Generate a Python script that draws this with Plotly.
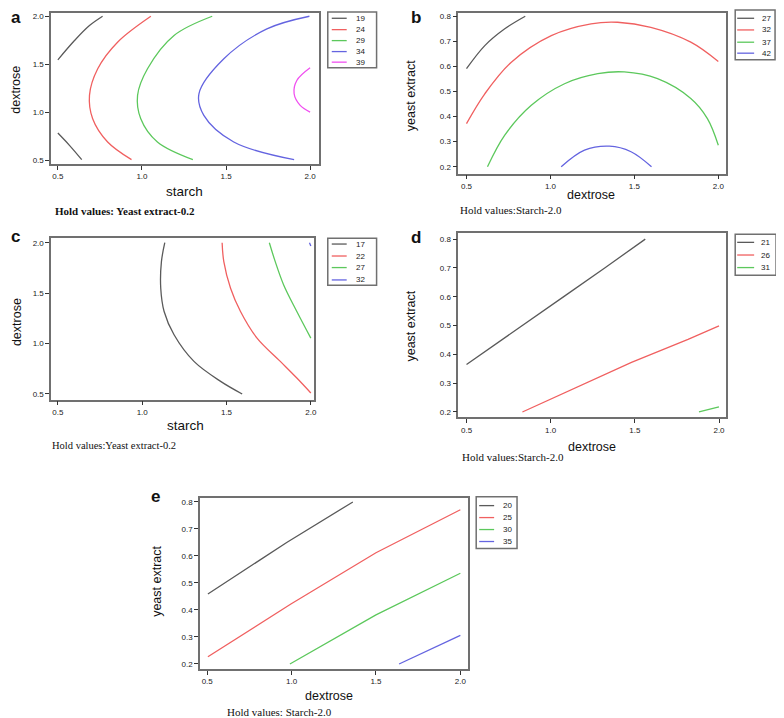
import plotly.graph_objects as go

W, H = 784, 718

# ---------------- data ----------------
# Panel a: starch (x) vs dextrose (y), hold yeast extract 0.2
a_levels = [19, 24, 29, 34, 39]
a_lvl = [19, 19, 24, 29, 34, 39]
a_x = [
    [0.50, 0.599, 0.688, 0.766],
    [0.50, 0.569, 0.642],
    [1.053, 0.855, 0.737, 0.688, 0.707, 0.796, 0.938],
    [1.418, 1.191, 1.033, 0.974, 0.993, 1.092, 1.303],
    [1.996, 1.743, 1.487, 1.339, 1.368, 1.546, 1.905],
    [2.0, 1.921, 1.905, 1.941, 2.0],
]
a_y = [
    [1.546, 1.747, 1.903, 2.0],
    [0.784, 0.656, 0.507],
    [2.0, 1.73, 1.453, 1.176, 0.933, 0.691, 0.507],
    [2.0, 1.80, 1.453, 1.176, 0.933, 0.691, 0.507],
    [2.0, 1.868, 1.557, 1.193, 0.968, 0.691, 0.507],
    [1.463, 1.331, 1.193, 1.072, 1.002],
]

# Panel b: dextrose (x) vs yeast extract (y), hold starch 2.0
b_levels = [27, 32, 37, 42]
b_lvl = [27, 32, 37, 42]
b_x = [
    [0.50, 0.609, 0.728, 0.850],
    [0.50, 0.609, 0.767, 1.005, 1.242, 1.40, 1.598, 1.836, 2.0],
    [0.625, 0.728, 0.886, 1.084, 1.282, 1.44, 1.638, 1.836, 1.935, 2.0],
    [1.064, 1.203, 1.351, 1.480, 1.602],
]
b_y = [
    [0.591, 0.683, 0.750, 0.80],
    [0.372, 0.491, 0.617, 0.723, 0.770, 0.776, 0.756, 0.697, 0.620],
    [0.20, 0.326, 0.445, 0.531, 0.571, 0.578, 0.551, 0.472, 0.392, 0.286],
    [0.20, 0.266, 0.282, 0.260, 0.20],
]

# Panel c: starch (x) vs dextrose (y), hold yeast extract 0.2
c_levels = [17, 22, 27, 32]
c_lvl = [17, 22, 27, 32]
c_x = [
    [1.134, 1.114, 1.110, 1.130, 1.189, 1.307, 1.465, 1.593],
    [1.474, 1.484, 1.524, 1.583, 1.681, 1.819, 1.917, 2.0],
    [1.754, 1.789, 1.839, 1.917, 2.0],
    [1.992, 2.0],
]
c_y = [
    [2.0, 1.812, 1.548, 1.318, 1.087, 0.823, 0.625, 0.50],
    [2.0, 1.812, 1.548, 1.318, 1.054, 0.823, 0.658, 0.51],
    [2.0, 1.812, 1.581, 1.318, 1.054],
    [2.0, 1.967],
]

# Panel d: dextrose (x) vs yeast extract (y), hold starch 2.0
d_levels = [21, 26, 31]
d_lvl = [21, 26, 31]
d_x = [
    [0.50, 0.827, 1.084, 1.321, 1.562],
    [0.832, 1.222, 1.48, 1.816, 2.0],
    [1.881, 2.0],
]
d_y = [
    [0.365, 0.497, 0.603, 0.700, 0.80],
    [0.20, 0.302, 0.372, 0.452, 0.499],
    [0.20, 0.218],
]

# Panel e: dextrose (x) vs yeast extract (y), hold starch 2.0
e_levels = [20, 25, 30, 35]
e_lvl = [20, 25, 30, 35]
e_x = [
    [0.504, 0.971, 1.363],
    [0.504, 0.996, 1.5, 2.0],
    [0.990, 1.5, 2.0],
    [1.637, 1.814, 2.0],
]
e_y = [
    [0.459, 0.650, 0.80],
    [0.227, 0.422, 0.612, 0.771],
    [0.20, 0.382, 0.536],
    [0.20, 0.252, 0.306],
]

x_ticks = [0.5, 1.0, 1.5, 2.0]
dex_ticks = [0.5, 1.0, 1.5, 2.0]
ye_ticks = [0.2, 0.3, 0.4, 0.5, 0.6, 0.7, 0.8]

# ---------------- styling ----------------
COLORS = ["#5a5a5a", "#f06060", "#5cc85c", "#6464e0", "#f050f0"]
FRAME = "#707070"
TICKFONT = dict(family="Liberation Sans, Arial", size=8, color="#222")
SERIF = "Liberation Serif, Times New Roman"

fig = go.Figure()


def px_x(v):
    return v / W


def px_y(v):
    return 1 - v / H


panels = [
    # name, levels, lvl, xs, ys, box(l,t,r,b), xrange, yrange, yticks, line shape
    ("a", a_levels, a_lvl, a_x, a_y, (43.3, 4, 311.7, 155.3), [0.460, 2.050], [0.463, 2.034], dex_ticks, "spline"),
    ("b", b_levels, b_lvl, b_x, b_y, (452, 4, 720.3, 165), [0.451, 2.043], [0.173, 0.813], ye_ticks, "spline"),
    ("c", c_levels, c_lvl, c_x, c_y, (43.3, 230, 306.7, 391.7), [0.460, 2.016], [0.444, 2.043], dex_ticks, "spline"),
    ("d", d_levels, d_lvl, d_x, d_y, (452, 225, 721, 409.3), [0.451, 2.043], [0.182, 0.820], ye_ticks, "linear"),
    ("e", e_levels, e_lvl, e_x, e_y, (192.7, 490, 461.7, 661.7), [0.457, 2.045], [0.182, 0.816], ye_ticks, "linear"),
]

layout = {}
for i, (name, levels, lvl, xs, ys, box, xr, yr, yt, shp) in enumerate(panels):
    idx = "" if i == 0 else str(i + 1)
    xa, ya = "x" + idx, "y" + idx
    l, t, r, b = box
    for lv, xv, yv in zip(lvl, xs, ys):
        col = COLORS[levels.index(lv)]
        line = dict(color=col, width=1.3, shape=shp)
        if shp == "spline":
            line["smoothing"] = 1.0
        fig.add_trace(go.Scatter(
            x=xv, y=yv, mode="lines", xaxis=xa, yaxis=ya,
            line=line, showlegend=False, hoverinfo="skip"))
    common = dict(showline=True, mirror=True, linecolor=FRAME, linewidth=1.5,
                  ticks="outside", ticklen=4, tickwidth=1, tickcolor="#333",
                  showgrid=False, zeroline=False, tickfont=TICKFONT,
                  tickformat=".1f", fixedrange=True)
    layout["xaxis" + idx] = dict(common, domain=[px_x(l), px_x(r)], range=xr,
                                 tickvals=x_ticks, anchor=ya)
    layout["yaxis" + idx] = dict(common, domain=[px_y(b), px_y(t)], range=yr,
                                 tickvals=yt, anchor=xa)

fig.update_layout(**layout)

# ---------------- annotations: titles, labels ----------------
ann = []


def text(x, y, s, size, family="Liberation Sans, Arial", bold=False, angle=0,
         xanchor="center", color="#111"):
    ann.append(dict(x=px_x(x), y=px_y(y), xref="paper", yref="paper",
                    text=("<b>%s</b>" % s) if bold else s,
                    showarrow=False, xanchor=xanchor, yanchor="middle", textangle=angle,
                    font=dict(family=family, size=size, color=color)))


# panel letters
text(8, 9, "a", 17, bold=True)
text(410, 9, "b", 17, bold=True)
text(8, 228, "c", 17, bold=True)
text(410, 229, "d", 17, bold=True)
text(148, 489, "e", 17, bold=True)

# axis titles
text(177, 183, "starch", 13.5)
text(8, 81, "dextrose", 12.5, angle=-90)
text(585, 187, "dextrose", 12.5)
text(404, 87, "yeast extract", 12.5, angle=-90)
text(178, 418, "starch", 13.5)
text(9, 314, "dextrose", 12.5, angle=-90)
text(586, 439, "dextrose", 12.5)
text(405, 318, "yeast extract", 12.5, angle=-90)
text(322, 689, "dextrose", 12.5)
text(150, 574, "yeast extract", 12.5, angle=-90)

# hold values
text(45, 203, "Hold values: Yeast extract-0.2", 11, family=SERIF, bold=True, xanchor="left")
text(452, 202, "Hold values:Starch-2.0", 11, family=SERIF, xanchor="left")
text(42, 438, "Hold values:Yeast extract-0.2", 10.5, family=SERIF, xanchor="left")
text(454, 449, "Hold values:Starch-2.0", 11, family=SERIF, xanchor="left")
text(218, 705, "Hold values: Starch-2.0", 11, family=SERIF, xanchor="left")

# ---------------- legends (manual) ----------------
shapes = []
legends = [
    (a_levels, (321, 3, 370, 59), [9.3, 20.7, 31.7, 42.7, 53.3], (325, 340), 347),
    (b_levels, (730, 1, 770, 51), [9.3, 21, 33.3, 44.3], (732, 749), 755),
    (c_levels, (321, 230, 370, 277), [235.7, 247.7, 259.3, 271.7], (325, 340), 347),
    (d_levels, (730, 226, 771, 267), [234, 246.7, 259.3], (732, 749), 754),
    (e_levels, (470, 489, 511, 541), [498, 510, 522, 534], (473, 488), 495),
]
for levels, (l, t, r, b), ys, (lx0, lx1), tx in legends:
    shapes.append(dict(type="rect", xref="paper", yref="paper",
                       x0=px_x(l), x1=px_x(r), y0=px_y(b), y1=px_y(t),
                       line=dict(color=FRAME, width=1.5), fillcolor="rgba(0,0,0,0)"))
    for k, lv in enumerate(levels):
        yy = ys[k]
        shapes.append(dict(type="line", xref="paper", yref="paper",
                           x0=px_x(lx0), x1=px_x(lx1), y0=px_y(yy), y1=px_y(yy),
                           line=dict(color=COLORS[k], width=1.3)))
        text(tx, yy, str(lv), 8, xanchor="left", color="#222")

fig.update_layout(
    annotations=ann, shapes=shapes,
    width=W, height=H, margin=dict(l=0, r=0, t=0, b=0),
    paper_bgcolor="white", plot_bgcolor="white", showlegend=False,
)

fig.write_html("out.html")
